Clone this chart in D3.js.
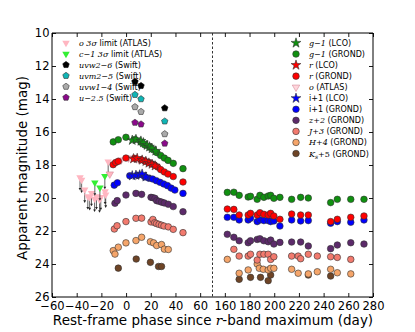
<!DOCTYPE html>
<html><head><meta charset="utf-8">
<script src="https://cdn.jsdelivr.net/npm/d3@7"></script>
<style>body{margin:0;background:#fff}</style>
</head><body><svg id="c" width="415" height="332"></svg>
<script>
// ---------------- data (phase in rest-frame days, apparent magnitude) ----------------
const xTicksLeft = [-60,-40,-20,0,20,40,60];
const xTicksRight = [160,180,200,220,240,260,280];
const yTicks = [10,12,14,16,18,20,22,24,26];

const oLimit = [[-37.3,18.75],[-36,18.9],[-33.5,19.5],[-31,19.9],[-29.5,19.95],[-28,19.7],[-25.5,20.05],[-24,19.9],[-21.5,20.1],[-20.5,19.95],[-17,19.6],[-16.5,19.8],[-14.5,17.8]];
const cLimit = [[-25.3,19.07],[-21.2,19.37],[-17.2,18.67]];
const uvw2 = [[7.2,12.95],[12.1,13.2],[31.3,14.55]];
const uvm2 = [[7.2,13.74],[12.1,14.0],[31.3,15.35]];
const uvw1 = [[7.2,14.48],[12.1,14.77],[31.3,16.12]];
const uSwift = [[7.2,15.43],[12.1,15.53],[31.3,16.69]];
const oATLAS = [[-13.2,18.55],[-4,17.7],[2,17.58],[10,17.65],[17,17.82]];

const gLCO = [[5,16.5],[8,16.45],[12,16.55],[14,16.65],[17,16.8],[19,16.9],[21,17.0],[24,17.15]];
const gGROND = [[-10.4,16.6],[-6.3,16.47],[-0.1,16.32],[7.2,16.45],[12.1,16.62],[15,16.78],[19,16.92],[22,17.08],[25,17.25],[28,17.42],[31,17.58],[34,17.72],[38.2,17.9],[46.1,18.22],
  [162,19.66],[167.3,19.65],[171.6,19.84],[178.9,19.94],[180.8,19.9],[186.2,20.08],[188.4,19.84],[191.6,19.96],[195.1,19.88],[197.1,19.84],[199.7,20.02],[204.6,19.96],[214.1,20.08],[221.4,19.96],[227.6,20.0],[245.7,20.28],[251.1,20.08],[262,20.08],[272.7,20.08]];
const rLCO = [[6,17.62],[9,17.6],[13,17.7],[16,17.78],[18.5,17.88],[21,17.95],[23.5,18.05]];
const rGROND = [[-10.5,17.98],[-8.5,17.85],[-6.3,17.78],[-0.1,17.58],[7,17.6],[12,17.68],[15,17.75],[18,17.85],[20.5,17.92],[23,18.0],[25.5,18.12],[28,18.28],[31,18.42],[34,18.55],[38.2,18.7],[46.1,19.03],
  [162,20.67],[167.3,20.69],[171.6,21.03],[178.9,21.03],[180.8,20.93],[186.2,21.03],[188.4,20.89],[191.6,20.99],[195.1,21.03],[197.1,20.93],[199.7,21.09],[204.6,21.29],[214.1,20.97],[221.4,21.03],[227.6,21.03],[245.7,21.43],[251.1,21.29],[262,21.17],[272.7,21.09]];
const iLCO = [[5,18.65],[8,18.62],[11,18.6],[13,18.55],[16,18.72]];
const iGROND = [[-9.6,19.22],[-7,19.08],[3,18.65],[9,18.62],[15.5,18.72],[18.5,18.8],[21.5,18.85],[24.5,18.95],[27.5,19.05],[30.5,19.15],[33.5,19.25],[36.5,19.4],[39.5,19.52],[46.1,19.72],
  [162,21.17],[167.3,21.17],[171.6,21.33],[178.9,21.33],[180.8,21.23],[186.2,21.43],[188.4,21.33],[191.6,21.37],[195.1,21.37],[197.1,21.43],[199.7,21.39],[204.6,21.7],[214.1,21.33],[221.4,21.39],[227.6,21.37],[245.7,21.53],[251.1,21.43],[262,21.47],[272.7,21.33]];
const zGROND = [[-9,20.32],[-7.2,20.16],[-0.1,19.82],[8,19.72],[12.6,19.78],[20.2,19.96],[21.7,19.98],[23.4,20.02],[24.8,20.16],[26.7,20.2],[28.8,20.25],[31,20.3],[34.2,20.38],[38.2,20.52],[46.1,20.83],
  [162,22.2],[167.3,22.38],[171.6,22.59],[178.9,22.71],[180.8,22.59],[186.2,22.51],[188.4,22.47],[191.6,22.59],[195.1,22.65],[197.1,22.55],[199.7,22.79],[204.6,22.69],[214.1,22.67],[221.4,22.67],[227.6,22.91],[245.7,23.07],[251.1,22.85],[262,22.71],[272.7,22.79]];
const JGROND = [[-9.5,21.88],[-7.3,21.68],[-0.1,21.43],[8,21.23],[12.6,21.22],[20.2,21.45],[21.7,21.3],[23.2,21.5],[24.7,21.55],[26.7,21.6],[28.7,21.65],[30.7,21.7],[34.2,21.75],[38.2,21.9],[46.1,22.1],
  [167.3,23.11],[171.6,23.52],[178.9,23.52],[180.8,23.41],[186.2,23.76],[188.4,23.41],[191.6,23.41],[195.1,23.41],[197.1,23.72],[199.7,23.56],[214.1,23.52],[219.4,23.52],[221.4,23.68],[227.6,23.41],[234.9,23.52],[245.7,23.56],[251.1,23.6],[262,23.72]];
const HGROND = [[-10.4,23.19],[-9,23.4],[-6.3,22.98],[-0.1,22.72],[8,22.58],[12.6,22.38],[19.7,22.65],[22.3,22.72],[24.8,22.88],[28.7,22.82],[31,23.1],[34.2,23.12],
  [162,23.72],[171.6,24.56],[178.9,24.36],[186.2,24.0],[187.9,24.26],[191.1,24.32],[195.1,24.36],[197.1,24.26],[199.7,24.26],[214.1,24.32],[219.4,24.56],[227.6,24.6],[234.9,24.47],[245.7,24.32],[251.1,24.53],[262,24.6]];
const KsGROND = [[-6.3,24.25],[8.2,23.7],[19.7,23.9],[26.3,24.15],[28.7,24.15],
  [171.6,24.93],[180.8,24.81],[188.9,24.81],[195.1,25.01],[197.1,24.67],[227.6,24.67],[245.7,24.73]];

// ---------------- layout ----------------
const L=52, R=373, T=33, B=297, MID=212.5;
const svg = d3.select("#c");
const xL = d3.scaleLinear().domain([-60,70]).range([L,MID]);
const xR = d3.scaleLinear().domain([150,280]).range([MID,R]);
const x = p => p < 100 ? xL(p) : xR(p);
const y = d3.scaleLinear().domain([10,26]).range([T,B]);
const SANS = "DejaVu Sans, sans-serif";
const SERIF = "DejaVu Serif, serif";

function pentagon(r){
  const pts = d3.range(5).map(k=>{const a=-Math.PI/2+k*2*Math.PI/5;return [r*Math.cos(a), r*Math.sin(a)];});
  return "M"+pts.map(p=>p.join(",")).join("L")+"Z";
}
const shapes = {
  circle: d3.symbol(d3.symbolCircle, 34)(),
  star: d3.symbol(d3.symbolStar, 30)(),
  tri: d3.symbol(d3.symbolTriangle, 24)(),
  pent: pentagon(3.4)
};
function drawMarker(g, shape, fill, stroke, rot){
  return g.append("path").attr("d", shapes[shape]).attr("fill", fill)
    .attr("stroke", stroke).attr("stroke-width", 0.6)
    .attr("transform", rot ? "rotate(180)" : null);
}

const plot = svg.append("g");
function series(data, shape, fill, stroke, rot){
  const g = plot.append("g");
  data.forEach(d=>{
    const m = g.append("g").attr("transform",`translate(${x(d[0])},${y(d[1])})`);
    drawMarker(m, shape, fill, stroke, rot);
  });
}
function limits(data, fill){
  const g = plot.append("g");
  data.forEach(d=>{
    const px=x(d[0]), py=y(d[1]), py2=y(d[1]+0.8);
    g.append("line").attr("x1",px).attr("x2",px).attr("y1",py).attr("y2",py2-2).attr("stroke","#222").attr("stroke-width",0.7);
    g.append("path").attr("d",`M${px-1.4},${py2-2.6}L${px+1.4},${py2-2.6}L${px},${py2}Z`).attr("fill","#222");
  });
  data.forEach(d=>{
    const m = g.append("g").attr("transform",`translate(${x(d[0])},${y(d[1])})`);
    drawMarker(m, "tri", fill, "none", true);
  });
}

const C = {
  pink:"#ffb6c1", lime:"#33ee33", cyan:"#10b5b5", gray:"#aaaaaa", swiftPurple:"#8b0a8b",
  green:"#109010", red:"#ff0000", blue:"#0000ff", purple:"#5c2a6a", salmon:"#f27a6e", orange:"#f5a56a", brown:"#6e4426"
};

limits(oLimit, C.pink);
limits(cLimit, C.lime);
series(KsGROND, "circle", C.brown, "#333");
series(HGROND, "circle", C.orange, "#333");
series(JGROND, "circle", C.salmon, "#333");
series(zGROND, "circle", C.purple, "#333");
series(iGROND, "circle", C.blue, "#333");
series(iLCO, "star", C.blue, "#333");
series(oATLAS, "tri", C.pink, "#d48a98", true);
series(rGROND, "circle", C.red, "#333");
series(rLCO, "star", C.red, "#333");
series(gGROND, "circle", C.green, "#333");
series(gLCO, "star", C.green, "#333");
series(uSwift, "pent", C.swiftPurple, "#333");
series(uvw1, "pent", C.gray, "#333");
series(uvm2, "pent", C.cyan, "#333");
series(uvw2, "pent", "#000", "#000");

// ---------------- axes ----------------
function style(g){
  g.select(".domain").remove();
  g.selectAll(".tick line").attr("stroke","#000").attr("stroke-width",0.9);
  g.selectAll("text").attr("font-family",SANS).attr("font-size",11.5).attr("fill","#000");
}
svg.append("g").attr("transform",`translate(0,${B})`).call(d3.axisBottom(xL).tickValues(xTicksLeft).tickSize(-4).tickPadding(4.5)).call(style);
svg.append("g").attr("transform",`translate(0,${B})`).call(d3.axisBottom(xR).tickValues(xTicksRight).tickSize(-4).tickPadding(4.5)).call(style);
svg.append("g").attr("transform",`translate(0,${T})`).call(d3.axisTop(xL).tickValues(xTicksLeft).tickSize(-4).tickFormat("")).call(style);
svg.append("g").attr("transform",`translate(0,${T})`).call(d3.axisTop(xR).tickValues(xTicksRight).tickSize(-4).tickFormat("")).call(style);
svg.append("g").attr("transform",`translate(${L},0)`).call(d3.axisLeft(y).tickValues(yTicks).tickSize(-4).tickPadding(2.5)).call(style);
svg.append("g").attr("transform",`translate(${R},0)`).call(d3.axisRight(y).tickValues(yTicks).tickSize(-4).tickFormat("")).call(style);

const frame = svg.append("g").attr("stroke","#000").attr("stroke-width",1).attr("fill","none");
frame.append("path").attr("d",`M${L},${T}H${R}V${B}H${L}Z`);
frame.append("line").attr("x1",MID).attr("x2",MID).attr("y1",T).attr("y2",B).attr("stroke","#333").attr("stroke-dasharray","2.5,2");

// axis titles
svg.append("text").attr("transform",`translate(27,${(T+B)/2+3}) rotate(-90)`).attr("text-anchor","middle")
  .attr("font-family",SANS).attr("font-size",13.5).text("Apparent magnitude (mag)");
const xt = svg.append("text").attr("x",213).attr("y",325).attr("text-anchor","middle").attr("font-family",SANS).attr("font-size",13.5);
xt.append("tspan").text("Rest-frame phase since ");
xt.append("tspan").attr("font-family",SERIF).attr("font-style","italic").text("r");
xt.append("tspan").text("-band maximum (day)");

// ---------------- legends ----------------
function legend(x0, y0, dy, items){
  const g = svg.append("g");
  items.forEach((it,i)=>{
    const yy = y0 + i*dy;
    const m = g.append("g").attr("transform",`translate(${x0},${yy})`);
    drawMarker(m, it.shape, it.fill, it.stroke, it.rot);
    const t = g.append("text").attr("x",x0+13).attr("y",yy+3).attr("font-family",SANS).attr("font-size",8).attr("fill","#000");
    it.parts.forEach(p=>{
      const s = t.append("tspan").text(p[0]);
      if(p[1]==="m") s.attr("font-family",SERIF).attr("font-style","italic");
      if(p[1]==="sub") s.attr("font-family",SERIF).attr("font-style","italic").attr("font-size",6).attr("dy",2);
      if(p[1]==="unsub") s.attr("font-family",SERIF).attr("dy",-2);
    });
  });
}
legend(66, 43, 10.9, [
  {shape:"tri", fill:C.pink, stroke:"none", rot:true, parts:[["o 3σ","m"],[" limit (ATLAS)"]]},
  {shape:"tri", fill:C.lime, stroke:"none", rot:true, parts:[["c−1 3σ","m"],[" limit (ATLAS)"]]},
  {shape:"pent", fill:"#000", stroke:"#000", parts:[["uvw2−6","m"],[" (Swift)"]]},
  {shape:"pent", fill:C.cyan, stroke:"#333", parts:[["uvm2−5","m"],[" (Swift)"]]},
  {shape:"pent", fill:C.gray, stroke:"#333", parts:[["uvw1−4","m"],[" (Swift)"]]},
  {shape:"pent", fill:C.swiftPurple, stroke:"#333", parts:[["u−2.5","m"],[" (Swift)"]]}
]);
legend(296, 43, 11.05, [
  {shape:"star", fill:C.green, stroke:"#333", parts:[["g−1","m"],[" (LCO)"]]},
  {shape:"circle", fill:C.green, stroke:"#333", parts:[["g−1","m"],[" (GROND)"]]},
  {shape:"star", fill:C.red, stroke:"#333", parts:[["r","m"],[" (LCO)"]]},
  {shape:"circle", fill:C.red, stroke:"#333", parts:[["r","m"],[" (GROND)"]]},
  {shape:"tri", fill:"#ffd6dc", stroke:"#d48a98", rot:true, parts:[["o","m"],[" (ATLAS)"]]},
  {shape:"star", fill:C.blue, stroke:"#333", parts:[["i+1 (LCO)"]]},
  {shape:"circle", fill:C.blue, stroke:"#333", parts:[["i+1 (GROND)"]]},
  {shape:"circle", fill:C.purple, stroke:"#333", parts:[["z+2","m"],[" (GROND)"]]},
  {shape:"circle", fill:C.salmon, stroke:"#333", parts:[["J+3","m"],[" (GROND)"]]},
  {shape:"circle", fill:C.orange, stroke:"#333", parts:[["H+4","m"],[" (GROND)"]]},
  {shape:"circle", fill:C.brown, stroke:"#333", parts:[["K","m"],["s","sub"],["+5","unsub"],[" (GROND)"]]}
]);
</script></body></html>
